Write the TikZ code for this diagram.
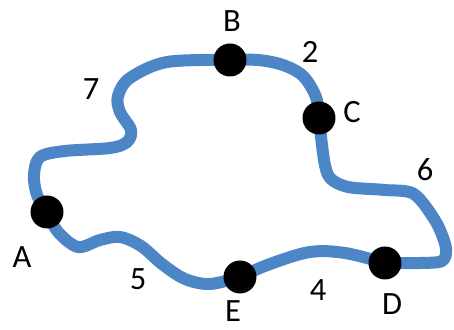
\documentclass[tikz,border=0pt]{standalone}
\usepackage{fontspec}
\setmainfont{Carlito}
\usepackage{tikz}
\definecolor{routeblue}{RGB}{76,134,198}
\pgfdeclarelayer{bg}
\pgfsetlayers{bg,main}

\begin{document}
\begin{tikzpicture}[x=0.02cm,y=-0.02cm]
    \tikzstyle{every node}+=[inner sep=0pt,font=\fontsize{18.5}{20}\selectfont]
    \tikzstyle{stop}=[circle,fill=black,minimum size=0.66cm]
    \tikzstyle{route}=[routeblue,line width=0.24cm,line cap=round,line join=round]
    \useasboundingbox (0,0) rectangle (454,330);
    % stops
    \node [stop] (A) at (47,212) {};
    \node [stop] (B) at (230,60) {};
    \node [stop] (C) at (319,118) {};
    \node [stop] (D) at (385,263) {};
    \node [stop] (E) at (240,277) {};
    % names
    \node (labA) at (22,257) {A};
    \node (labB) at (232,21) {B};
    \node (labC) at (352,112) {C};
    \node (labD) at (392,304) {D};
    \node (labE) at (233,311) {E};
    % lengths
    \node (lenBA) at (91,89) {7};
    \node (lenCB) at (310,52) {2};
    \node (lenDC) at (425,170) {6};
    \node (lenED) at (318,290) {4};
    \node (lenAE) at (138,279) {5};
    % road
    \begin{pgfonlayer}{bg}
    \draw [route] plot [smooth,tension=0.55] coordinates {(B.center) (167,62) (130,78) (118,96) (120,112) (131,130) (127,142) (110,148) (65,151) (40,157) (34,175) (37,195) (A.center)};
    \draw [route] plot [smooth,tension=0.55] coordinates {(A.center) (58,232) (78,247) (100,240) (120,237) (141,246) (162,264) (185,279) (210,284) (E.center)};
    \draw [route] plot [smooth,tension=0.55] coordinates {(E.center) (270,264) (310,252) (345,253) (D.center)};
    \draw [route] plot [smooth,tension=0.5] coordinates {(D.center) (420,263) (442,261) (446,248) (436,222) (414,194) (385,190) (348,187) (330,178) (324,160) (C.center)};
    \draw [route] plot [smooth,tension=0.55] coordinates {(C.center) (316,97) (303,76) (283,65) (258,60) (B.center)};
    \end{pgfonlayer}
\end{tikzpicture}
\end{document}
